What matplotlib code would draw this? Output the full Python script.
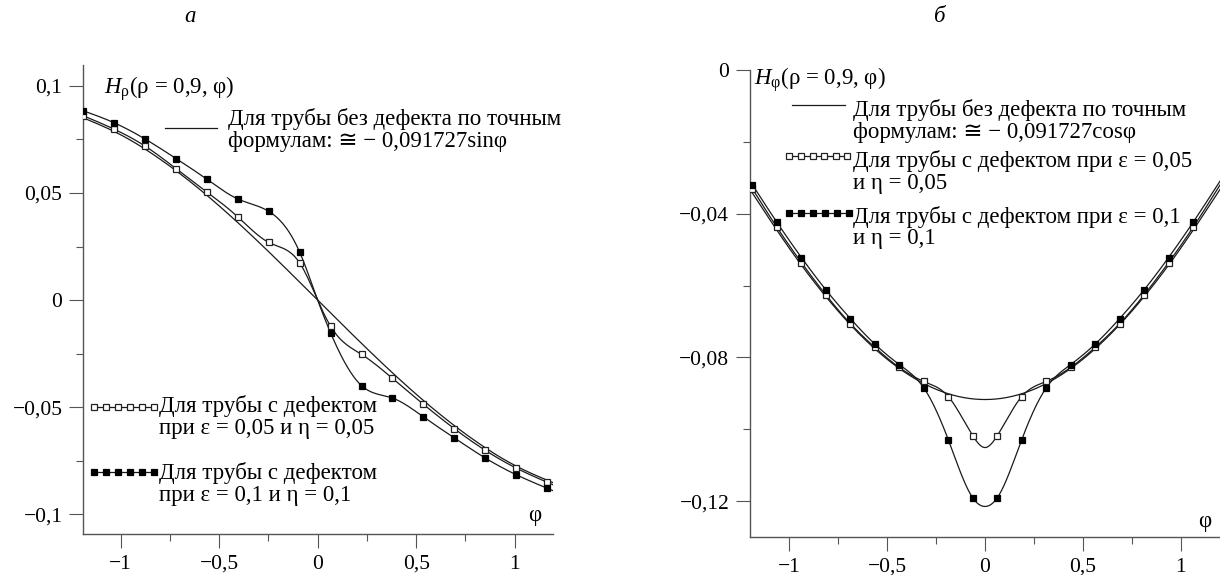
import numpy as np
import matplotlib
matplotlib.use('Agg')
import matplotlib.pyplot as plt
from matplotlib.lines import Line2D
from matplotlib.legend import Legend
from matplotlib.legend_handler import HandlerLine2D
from matplotlib.ticker import FixedLocator, MultipleLocator

plt.rcParams['font.family'] = ['Liberation Serif', 'DejaVu Sans']
plt.rcParams['mathtext.fontset'] = 'custom'
plt.rcParams['mathtext.rm'] = 'Liberation Serif'
plt.rcParams['mathtext.it'] = 'Liberation Serif:italic'

# --- panel a: H_rho(rho = 0.9, phi) ---
phi_a = [-1.19, -1.033, -0.876, -0.719, -0.562, -0.405, -0.248, -0.091, 0.0,
         0.066, 0.223, 0.38, 0.537, 0.694, 0.851, 1.008, 1.165]
h_a_005 = [0.0861, 0.0798, 0.0719, 0.0614, 0.0505, 0.0388, 0.0269, 0.0173, 0.0,
           -0.0123, -0.0254, -0.0366, -0.0487, -0.0601, -0.0702, -0.0785, -0.0851]
h_a_01 = [0.0884, 0.0828, 0.0752, 0.0661, 0.0564, 0.0472, 0.0414, 0.0223, 0.0,
          -0.0154, -0.0400, -0.0458, -0.0546, -0.0644, -0.0738, -0.0816, -0.0879]
marked_a = [True] * 8 + [False] + [True] * 8

# exact curve for the pipe without defect (~ -0.091727 sin phi / cos phi)
phi_exact = [-1.2, -1.0, -0.8, -0.6, -0.4, -0.2, 0.0, 0.2, 0.4, 0.6, 0.8, 1.0, 1.2]
h_a_exact = [0.08549, 0.07719, 0.06580, 0.05179, 0.03572, 0.01822, 0.0,
             -0.01822, -0.03572, -0.05179, -0.06580, -0.07719, -0.08549]

# --- panel b: H_phi(rho = 0.9, phi) ---
phi_b = [-1.1875, -1.0625, -0.9375, -0.8125, -0.6875, -0.5625, -0.4375, -0.3125,
         -0.1875, -0.0625, 0.0, 0.0625, 0.1875, 0.3125, 0.4375, 0.5625, 0.6875,
         0.8125, 0.9375, 1.0625, 1.1875]
h_b_005 = [-0.0331, -0.0438, -0.0536, -0.0626, -0.0706, -0.0772, -0.0828, -0.0867,
           -0.0909, -0.1018, -0.1051, -0.1018, -0.0909, -0.0867, -0.0828, -0.0772,
           -0.0706, -0.0626, -0.0536, -0.0438, -0.0331]
h_b_01 = [-0.0320, -0.0424, -0.0522, -0.0612, -0.0692, -0.0763, -0.0820, -0.0885,
          -0.1029, -0.1191, -0.1215, -0.1191, -0.1029, -0.0885, -0.0820, -0.0763,
          -0.0692, -0.0612, -0.0522, -0.0424, -0.0320]
marked_b = [True] * 10 + [False] + [True] * 9 + [False]
h_b_exact = [-0.03324, -0.04956, -0.06391, -0.07571, -0.08449, -0.08990, -0.09173,
             -0.08990, -0.08449, -0.07571, -0.06391, -0.04956, -0.03324]

xticks = [-1, -0.5, 0, 0.5, 1]
xtick_labels = ['\u22121', '\u22120,5', '0', '0,5', '1']
yticks_a = [0.1, 0.05, 0, -0.05, -0.1]
ytick_labels_a = ['0,1', '0,05', '0', '\u22120,05', '\u22120,1']
yticks_b = [0, -0.04, -0.08, -0.12]
ytick_labels_b = ['0', '\u22120,04', '\u22120,08', '\u22120,12']

label_exact_a = ['Для трубы без дефекта по точным', 'формулам: ≅ − 0,091727sinφ']
label_exact_b = ['Для трубы без дефекта по точным', 'формулам: ≅ − 0,091727cosφ']
label_005_a = ['Для трубы с дефектом', 'при ε = 0,05 и η = 0,05']
label_01_a = ['Для трубы с дефектом', 'при ε = 0,1 и η = 0,1']
label_005_b = ['Для трубы с дефектом при ε = 0,05', 'и η = 0,05']
label_01_b = ['Для трубы с дефектом при ε = 0,1', 'и η = 0,1']

W, H = 1220, 575
LINE = '#1a1a1a'
AXC = '#555555'
FS_TICK = 15.5
FS_TXT = 16.5
FS_PX = FS_TXT * 100 / 72


def fx(x):
    return x / W


def fy(y):
    return 1 - y / H


def spline(x, y, xs):
    # natural cubic spline through the knots, only to draw smooth curves
    x = np.asarray(x, float)
    y = np.asarray(y, float)
    n = len(x)
    h = np.diff(x)
    A = np.zeros((n, n))
    r = np.zeros(n)
    A[0, 0] = A[-1, -1] = 1.0
    for i in range(1, n - 1):
        A[i, i - 1] = h[i - 1]
        A[i, i] = 2 * (h[i - 1] + h[i])
        A[i, i + 1] = h[i]
        r[i] = 6 * ((y[i + 1] - y[i]) / h[i] - (y[i] - y[i - 1]) / h[i - 1])
    M = np.linalg.solve(A, r)
    idx = np.clip(np.searchsorted(x, xs) - 1, 0, n - 2)
    t = xs - x[idx]
    hi = h[idx]
    a = (M[idx + 1] - M[idx]) / (6 * hi)
    b = M[idx] / 2
    c = (y[idx + 1] - y[idx]) / hi - hi * (2 * M[idx] + M[idx + 1]) / 6
    return y[idx] + c * t + b * t ** 2 + a * t ** 3


def draw_series(ax, x, y, marked, x_end, style):
    xs = np.linspace(x[0], x_end, 600)
    ax.plot(xs, spline(x, y, xs), color=LINE, lw=0.9, zorder=2)
    xm = [p for p, m in zip(x, marked) if m]
    ym = [v for v, m in zip(y, marked) if m]
    ax.plot(xm, ym, linestyle='none', zorder=3, **style)


open_sq = dict(marker='s', markersize=4.6, markerfacecolor='white',
               markeredgecolor='#222222', markeredgewidth=0.9)
fill_sq = dict(marker='s', markersize=4.6, markerfacecolor='black',
               markeredgecolor='black', markeredgewidth=0.9)

h_exact = Line2D([], [], color=LINE, lw=0.9)
h_open = Line2D([], [], color=LINE, lw=0.9, **open_sq)
h_fill = Line2D([], [], color=LINE, lw=0.9, **fill_sq)
hmap = {Line2D: HandlerLine2D(numpoints=6, marker_pad=0.12)}


def style_axes(ax, xlim, yticks, ylabels, ylim, yminor):
    ax.set_xlim(*xlim)
    ax.set_ylim(*ylim)
    for s in ['top', 'right']:
        ax.spines[s].set_visible(False)
    for s in ['left', 'bottom']:
        ax.spines[s].set_color(AXC)
        ax.spines[s].set_linewidth(1.0)
    ax.xaxis.set_major_locator(FixedLocator(xticks))
    ax.set_xticklabels(xtick_labels)
    ax.xaxis.set_minor_locator(MultipleLocator(0.25))
    ax.yaxis.set_major_locator(FixedLocator(yticks))
    ax.set_yticklabels(ylabels)
    ax.yaxis.set_minor_locator(MultipleLocator(yminor))
    ax.tick_params(which='major', direction='out', length=10, width=0.8,
                   color=AXC, labelsize=FS_TICK, pad=5)
    ax.tick_params(which='minor', direction='out', length=5, width=0.8, color=AXC)


def add_entry(ax, handle, lines, x0, x1, y_line, x_text, baselines):
    # legend key drawn by the legend machinery, text lines placed separately
    leg = Legend(ax, [handle], [''], loc='center left',
                 bbox_to_anchor=(fx(x0), fy(y_line + 2.4)),
                 bbox_transform=fig.transFigure, frameon=False, fontsize=FS_TXT,
                 borderpad=0, borderaxespad=0, handlelength=(x1 - x0) / FS_PX,
                 handletextpad=0, handler_map=hmap)
    ax.add_artist(leg)
    for line, yb in zip(lines, baselines):
        fig.text(fx(x_text), fy(yb), line, fontsize=FS_TXT, ha='left', va='baseline')


fig = plt.figure(figsize=(W / 100, H / 100), dpi=100)
ax1 = fig.add_axes([fx(83.3), fy(534), (553 - 83.3) / W, (534 - 65) / H])
ax2 = fig.add_axes([fx(750), fy(537), (1220 - 750) / W, (537 - 70) / H])

# panel a
xs_a = np.linspace(-1.19, 1.195, 600)
ax1.plot(xs_a, spline(phi_exact, h_a_exact, xs_a), color=LINE, lw=0.9, zorder=2)
draw_series(ax1, phi_a, h_a_005, marked_a, 1.195, open_sq)
draw_series(ax1, phi_a, h_a_01, marked_a, 1.195, fill_sq)
style_axes(ax1, (-1.19, 1.195), yticks_a, ytick_labels_a, (-0.1093, 0.1098), 0.025)

fig.text(fx(104), fy(93.3), r'$H_{\mathrm{\rho}}$(ρ = 0,9, φ)', fontsize=FS_TXT,
         ha='left', va='baseline')
fig.text(fx(535), fy(516), 'φ', fontsize=FS_TXT, ha='center', va='center')
add_entry(ax1, h_exact, label_exact_a, 162.7, 220, 128.3, 228, [125, 146.7])
add_entry(ax1, h_open, label_005_a, 91.7, 156.9, 406.7, 158.8, [412.4, 433.8])
add_entry(ax1, h_fill, label_01_a, 91.7, 156.9, 471.8, 158.8, [478.5, 501.3])

# panel b
xs_b = np.linspace(-1.2, 1.2, 600)
ax2.plot(xs_b, spline(phi_exact, h_b_exact, xs_b), color=LINE, lw=0.9, zorder=2)
draw_series(ax2, phi_b, h_b_005, marked_b, 1.2, open_sq)
draw_series(ax2, phi_b, h_b_01, marked_b, 1.2, fill_sq)
style_axes(ax2, (-1.2, 1.2), yticks_b, ytick_labels_b, (-0.13, 0.0), 0.02)

fig.text(fx(754), fy(85), r'$H_{\mathrm{\varphi}}$(ρ = 0,9, φ)', fontsize=FS_TXT,
         ha='left', va='baseline')
fig.text(fx(1205), fy(521), 'φ', fontsize=FS_TXT, ha='center', va='center')
add_entry(ax2, h_exact, label_exact_b, 789, 848, 105, 853, [115.7, 138.3])
add_entry(ax2, h_open, label_005_b, 786.7, 850, 156, 853, [167.5, 189])
add_entry(ax2, h_fill, label_01_b, 786.7, 851.7, 212.7, 853, [222.5, 244])

fig.text(fx(190), fy(17), 'а', style='italic', fontsize=FS_TXT, ha='center', va='center')
fig.text(fx(940), fy(17), 'б', style='italic', fontsize=FS_TXT, ha='center', va='center')

fig.savefig('out.png', dpi=100)
